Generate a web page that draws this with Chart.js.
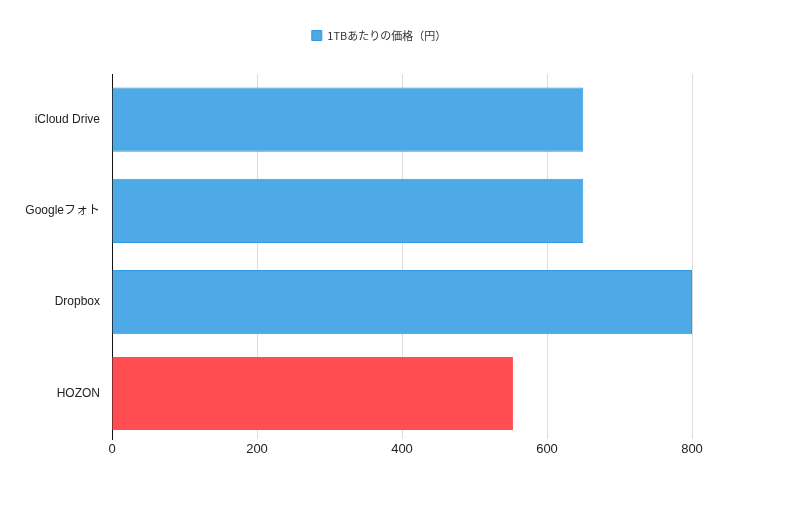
<!DOCTYPE html>
<html>
<head>
<meta charset="utf-8">
<script src="https://cdn.jsdelivr.net/npm/chart.js@4"></script>
<style>
  html, body { margin: 0; padding: 0; background: #fff; }
  #wrap { width: 800px; height: 531px; }
</style>
</head>
<body>
<div id="wrap"><canvas id="priceChart" width="800" height="531"></canvas></div>
<script>
const services = ['iCloud Drive', 'Googleフォト', 'Dropbox', 'HOZON'];
const otherPrices = [650, 650, 800, null];
const hozonPrice = [null, null, null, 553];
const xTicks = [0, 200, 400, 600, 800];

const blue = '#4daae6';
const blueBorder = '#3399e0';
const red = '#ff4d52';
const labelFont = '"Liberation Sans", "Noto Sans CJK JP", sans-serif';

// extra room between legend and plot
const legendGap = {
  id: 'legendGap',
  beforeInit(chart) {
    const fit = chart.legend.fit;
    chart.legend.fit = function () {
      fit.bind(chart.legend)();
      this.height = 54;
    };
  }
};

const ctx = document.getElementById('priceChart').getContext('2d');
new Chart(ctx, {
  type: 'bar',
  data: {
    labels: services,
    datasets: [
      {
        label: '1TBあたりの価格（円）',
        data: otherPrices,
        backgroundColor: blue,
        borderColor: blueBorder,
        borderWidth: 1,
        grouped: false,
        barPercentage: 0.88,
        categoryPercentage: 0.8
      },
      {
        label: 'HOZON',
        data: hozonPrice,
        backgroundColor: red,
        borderWidth: 0,
        grouped: false,
        barPercentage: 1.0,
        categoryPercentage: 0.8
      }
    ]
  },
  plugins: [legendGap],
  options: {
    indexAxis: 'y',
    responsive: false,
    animation: false,
    layout: { padding: { top: 20, left: 20, right: 62, bottom: 72 } },
    plugins: {
      legend: {
        display: true,
        position: 'top',
        labels: {
          filter: item => item.datasetIndex === 0,
          boxWidth: 10,
          boxHeight: 10,
          padding: 10,
          color: '#333',
          font: { family: '"Noto Sans CJK JP", "Liberation Sans", sans-serif', size: 11 }
        }
      },
      tooltip: { enabled: false }
    },
    scales: {
      x: {
        min: 0,
        max: 800,
        afterBuildTicks: axis => { axis.ticks = xTicks.map(v => ({ value: v })); },
        afterFit: axis => { axis.height = 20; },
        grid: { color: '#dddddd', lineWidth: 1, drawTicks: false },
        border: { display: false },
        ticks: { color: '#222', padding: 3, font: { family: labelFont, size: 13 } }
      },
      y: {
        afterFit: axis => { axis.width = 92; },
        grid: { display: false, drawTicks: false },
        border: { display: true, color: '#111', width: 1 },
        ticks: { color: '#222', padding: 12, font: { family: labelFont, size: 12 } }
      },
      yRight: {
        position: 'right',
        afterFit: axis => { axis.width = 46; },
        grid: { display: false, drawTicks: false },
        border: { display: false },
        ticks: { display: false }
      }
    }
  }
});
</script>
</body>
</html>
